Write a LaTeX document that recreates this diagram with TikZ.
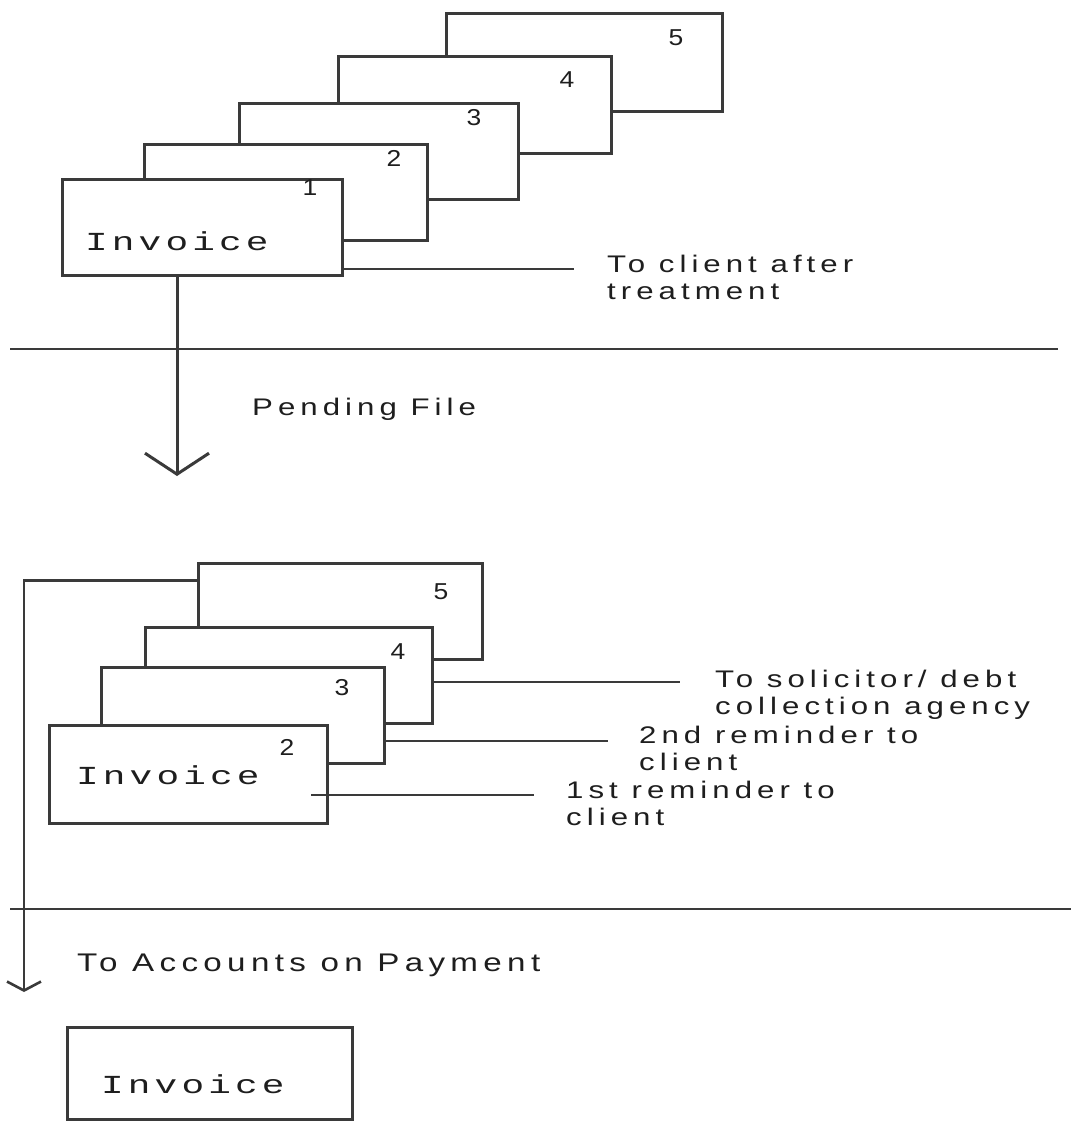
\documentclass[tikz,border=0pt]{standalone}
\usepackage{fontspec}
\setmainfont{Liberation Sans}
\newfontfamily\lblfont[FakeStretch=1.3,LetterSpace=21]{Liberation Sans}
\newfontfamily\invfont[FakeStretch=1.45,LetterSpace=16]{Liberation Mono}
\newfontfamily\numfont[FakeStretch=1.15]{Liberation Sans}
\usetikzlibrary{arrows.meta}
\definecolor{ink}{HTML}{3A3A3A}
\definecolor{txt}{HTML}{1E1E1E}
\begin{document}
\begin{tikzpicture}[x=1pt,y=-1pt,
  card/.style={draw=ink, line width=3pt, fill=white, rectangle, inner sep=0pt},
  num/.style={font=\numfont\fontsize{23}{26}\selectfont, text=txt, inner sep=0pt},
  inv/.style={font=\invfont\fontsize{26}{30}\selectfont, text=txt, anchor=base west, inner sep=0pt},
  lbl/.style={font=\lblfont\fontsize{24}{27}\selectfont, text=txt, align=left, anchor=north west, inner sep=0pt},
  lblone/.style={font=\lblfont\fontsize{24}{27}\selectfont, text=txt, anchor=base west, inner sep=0pt},
  leader/.style={draw=ink, line width=1.8pt},
  sep/.style={draw=ink, line width=2.2pt},
  flow/.style={draw=ink, line width=3pt}]
\path[use as bounding box, fill=white] (0,0) rectangle (1071,1122);

% separators
\coordinate (s1a) at (10,349);  \coordinate (s1b) at (1058,349);
\coordinate (s2a) at (10,909);  \coordinate (s2b) at (1071,909);
\draw[sep] (s1a) -- (s1b);
\draw[sep] (s2a) -- (s2b);

% top stack (back to front)
\node[card, minimum width=276pt, minimum height=98pt] (T5) at (584,62) {};
\node[card, minimum width=273pt, minimum height=97pt] (T4) at (474.5,104.5) {};
\node[card, minimum width=279pt, minimum height=96pt] (T3) at (378.5,151) {};
\node[card, minimum width=283pt, minimum height=96pt] (T2) at (285.5,192) {};
\node[card, minimum width=280pt, minimum height=96pt] (T1) at (202,227) {};
\node[num] (t5n) at (676,38) {5};
\node[num] (t4n) at (567,80) {4};
\node[num] (t3n) at (474,118) {3};
\node[num] (t2n) at (394,158) {2};
\node[num] (t1n) at (310,188) {1};
\node[inv] (t1inv) at (85,250) {Invoice};

% top leader
\coordinate (l1e) at (574,269);
\draw[leader] (T1.east |- l1e) -- (l1e);
\node[lbl] (l1t) at (607,254.5) {To client after\\treatment};

% pending arrow
\coordinate (pend) at (177,476);
\draw[flow, -{Straight Barb[length=21pt,width=64pt,line width=3pt]}] (T1.south -| pend) -- (pend);
\node[lblone] (pf) at (252,415) {Pending File};

% bottom stack
\node[card, minimum width=284pt, minimum height=96pt] (B5) at (340,611) {};
\node[card, minimum width=287pt, minimum height=96pt] (B4) at (288.5,675) {};
\node[card, minimum width=283pt, minimum height=96pt] (B3) at (242.5,715) {};
\node[card, minimum width=278pt, minimum height=98pt] (B2) at (188,774) {};
\node[num] (b5n) at (441,592) {5};
\node[num] (b4n) at (398,652) {4};
\node[num] (b3n) at (342,688) {3};
\node[num] (b2n) at (287,747) {2};
\node[inv] (b2inv) at (76,784) {Invoice};

% bottom leaders
\coordinate (r3e) at (680,682);
\draw[leader] (B4.east |- r3e) -- (r3e);
\node[lbl] (r3t) at (715,669.5) {To solicitor/ debt\\collection agency};
\coordinate (r2e) at (608,741);
\draw[leader] (B3.east |- r2e) -- (r2e);
\node[lbl] (r2t) at (639,725.5) {2nd reminder to\\client};
\coordinate (r1s) at (311,795);
\coordinate (r1e) at (534,795);
\draw[leader] (r1s) -- (r1e);
\node[lbl] (r1t) at (566,780.5) {1st reminder to\\client};

% payment arrow
\coordinate (acc) at (24,992);
\draw[flow, line width=2.6pt, -{Straight Barb[length=9pt,width=34pt,line width=2.6pt]}]
  ([yshift=-19pt]B5.north west) -| (acc);
\node[lblone, font=\lblfont\fontsize{25.5}{30}\selectfont] (pay) at (77,971) {To Accounts on Payment};

% final invoice
\node[card, minimum width=285pt, minimum height=92pt] (F) at (209.5,1073) {};
\node[inv] (finv) at (101,1093) {Invoice};
\end{tikzpicture}
\end{document}
